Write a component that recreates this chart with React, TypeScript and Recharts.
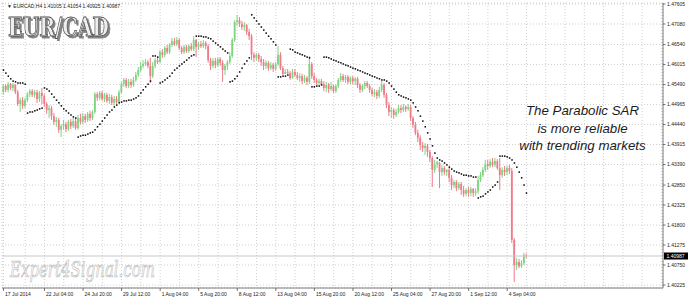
import React from 'react';
import { ComposedChart, Bar, Line, XAxis, YAxis, CartesianGrid, ReferenceLine } from 'recharts';

const BULL = '#7fd47f';
const BEAR = '#ef7b89';
const SMALL_FONT = "'Liberation Sans', Arial, sans-serif";

const symbolName = 'EURCAD,H4';
const lastBar = [1.41005, 1.41054, 1.40925, 1.40987];
const lastBid = 1.40987;

const openP = [
  1.4529, 1.4545, 1.4535, 1.4550, 1.4540, 1.4548, 1.4529, 1.4498, 1.4508, 1.4493,
  1.4508, 1.4524, 1.4532, 1.4522, 1.4529, 1.4511, 1.4527, 1.4519, 1.4498, 1.4482,
  1.4487, 1.4466, 1.4451, 1.4456, 1.4430, 1.4440, 1.4445, 1.4432, 1.4451, 1.4440,
  1.4453, 1.4435, 1.4461, 1.4451, 1.4466, 1.4456, 1.4472, 1.4461, 1.4477, 1.4524,
  1.4514, 1.4527, 1.4511, 1.4522, 1.4506, 1.4516, 1.4501, 1.4511, 1.4503, 1.4529,
  1.4550, 1.4561, 1.4545, 1.4556, 1.4548, 1.4561, 1.4574, 1.4587, 1.4598, 1.4603,
  1.4608, 1.4598, 1.4571, 1.4598, 1.4613, 1.4608, 1.4634, 1.4627, 1.4645, 1.4634,
  1.4653, 1.4663, 1.4655, 1.4666, 1.4645, 1.4634, 1.4648, 1.4637, 1.4650, 1.4642,
  1.4666, 1.4648, 1.4655, 1.4650, 1.4658, 1.4650, 1.4613, 1.4598, 1.4611, 1.4600,
  1.4616, 1.4606, 1.4587, 1.4598, 1.4608, 1.4624, 1.4666, 1.4713, 1.4718, 1.4708,
  1.4700, 1.4705, 1.4687, 1.4676, 1.4627, 1.4619, 1.4627, 1.4616, 1.4608, 1.4598,
  1.4606, 1.4592, 1.4600, 1.4590, 1.4603, 1.4627, 1.4592, 1.4577, 1.4582, 1.4579,
  1.4566, 1.4582, 1.4574, 1.4566, 1.4571, 1.4558, 1.4566, 1.4556, 1.4603, 1.4571,
  1.4561, 1.4553, 1.4558, 1.4550, 1.4540, 1.4548, 1.4537, 1.4545, 1.4532, 1.4545,
  1.4561, 1.4571, 1.4561, 1.4569, 1.4556, 1.4566, 1.4558, 1.4564, 1.4548, 1.4535,
  1.4545, 1.4553, 1.4545, 1.4535, 1.4524, 1.4529, 1.4519, 1.4535, 1.4548, 1.4522,
  1.4495, 1.4477, 1.4482, 1.4469, 1.4477, 1.4487, 1.4482, 1.4490, 1.4485, 1.4490,
  1.4461, 1.4443, 1.4422, 1.4409, 1.4390, 1.4382, 1.4388, 1.4372, 1.4356, 1.4325,
  1.4340, 1.4343, 1.4319, 1.4330, 1.4319, 1.4325, 1.4304, 1.4285, 1.4293, 1.4277,
  1.4288, 1.4272, 1.4262, 1.4272, 1.4264, 1.4275, 1.4264, 1.4269, 1.4298, 1.4311,
  1.4325, 1.4340, 1.4335, 1.4346, 1.4338, 1.4348, 1.4330, 1.4311, 1.4325, 1.4319,
  1.4330, 1.4322, 1.4141, 1.4075, 1.4083, 1.4072, 1.4080, 1.41005,
];

const highP = [
  1.4550, 1.4550, 1.4556, 1.4553, 1.4553, 1.4550, 1.4535, 1.4514, 1.4516, 1.4514,
  1.4529, 1.4537, 1.4537, 1.4535, 1.4535, 1.4532, 1.4540, 1.4524, 1.4503, 1.4495,
  1.4493, 1.4474, 1.4464, 1.4461, 1.4445, 1.4456, 1.4451, 1.4456, 1.4459, 1.4461,
  1.4459, 1.4469, 1.4472, 1.4474, 1.4472, 1.4477, 1.4480, 1.4482, 1.4529, 1.4529,
  1.4532, 1.4532, 1.4527, 1.4527, 1.4524, 1.4522, 1.4519, 1.4519, 1.4535, 1.4556,
  1.4566, 1.4566, 1.4564, 1.4564, 1.4569, 1.4582, 1.4595, 1.4608, 1.4613, 1.4616,
  1.4613, 1.4619, 1.4608, 1.4619, 1.4619, 1.4640, 1.4642, 1.4650, 1.4653, 1.4658,
  1.4671, 1.4671, 1.4674, 1.4671, 1.4650, 1.4653, 1.4653, 1.4655, 1.4658, 1.4676,
  1.4669, 1.4661, 1.4663, 1.4666, 1.4663, 1.4655, 1.4619, 1.4619, 1.4619, 1.4621,
  1.4621, 1.4613, 1.4603, 1.4613, 1.4634, 1.4671, 1.4718, 1.4732, 1.4726, 1.4716,
  1.4713, 1.4708, 1.4695, 1.4682, 1.4634, 1.4632, 1.4632, 1.4624, 1.4616, 1.4613,
  1.4611, 1.4608, 1.4606, 1.4608, 1.4650, 1.4634, 1.4598, 1.4590, 1.4590, 1.4585,
  1.4590, 1.4590, 1.4582, 1.4579, 1.4577, 1.4574, 1.4571, 1.4624, 1.4608, 1.4579,
  1.4566, 1.4564, 1.4564, 1.4558, 1.4556, 1.4553, 1.4556, 1.4548, 1.4550, 1.4566,
  1.4579, 1.4577, 1.4574, 1.4574, 1.4571, 1.4571, 1.4569, 1.4569, 1.4553, 1.4550,
  1.4558, 1.4558, 1.4550, 1.4540, 1.4537, 1.4535, 1.4543, 1.4558, 1.4553, 1.4527,
  1.4503, 1.4490, 1.4487, 1.4485, 1.4495, 1.4495, 1.4498, 1.4495, 1.4498, 1.4495,
  1.4466, 1.4451, 1.4430, 1.4416, 1.4398, 1.4395, 1.4393, 1.4377, 1.4361, 1.4351,
  1.4348, 1.4346, 1.4338, 1.4335, 1.4327, 1.4330, 1.4311, 1.4298, 1.4298, 1.4293,
  1.4293, 1.4283, 1.4277, 1.4280, 1.4280, 1.4277, 1.4277, 1.4309, 1.4319, 1.4332,
  1.4351, 1.4351, 1.4353, 1.4356, 1.4356, 1.4353, 1.4356, 1.4332, 1.4335, 1.4335,
  1.4338, 1.4330, 1.4146, 1.4093, 1.4091, 1.4088, 1.4107, 1.41054,
];

const lowP = [
  1.4522, 1.4529, 1.4529, 1.4535, 1.4532, 1.4524, 1.4493, 1.4477, 1.4485, 1.4487,
  1.4503, 1.4516, 1.4516, 1.4514, 1.4501, 1.4503, 1.4498, 1.4490, 1.4472, 1.4461,
  1.4456, 1.4443, 1.4438, 1.4422, 1.4411, 1.4430, 1.4424, 1.4427, 1.4432, 1.4435,
  1.4430, 1.4430, 1.4445, 1.4445, 1.4448, 1.4451, 1.4453, 1.4456, 1.4472, 1.4506,
  1.4508, 1.4506, 1.4503, 1.4501, 1.4498, 1.4495, 1.4493, 1.4498, 1.4503, 1.4524,
  1.4543, 1.4540, 1.4540, 1.4540, 1.4543, 1.4556, 1.4569, 1.4582, 1.4592, 1.4598,
  1.4592, 1.4553, 1.4566, 1.4592, 1.4603, 1.4606, 1.4619, 1.4621, 1.4629, 1.4629,
  1.4648, 1.4650, 1.4650, 1.4640, 1.4629, 1.4629, 1.4632, 1.4632, 1.4637, 1.4637,
  1.4621, 1.4640, 1.4645, 1.4645, 1.4642, 1.4606, 1.4587, 1.4592, 1.4592, 1.4595,
  1.4598, 1.4556, 1.4574, 1.4587, 1.4603, 1.4619, 1.4661, 1.4703, 1.4700, 1.4692,
  1.4690, 1.4679, 1.4666, 1.4613, 1.4608, 1.4611, 1.4608, 1.4598, 1.4587, 1.4590,
  1.4585, 1.4587, 1.4582, 1.4585, 1.4598, 1.4587, 1.4574, 1.4577, 1.4577, 1.4561,
  1.4564, 1.4569, 1.4561, 1.4556, 1.4550, 1.4553, 1.4548, 1.4550, 1.4564, 1.4553,
  1.4548, 1.4548, 1.4550, 1.4532, 1.4529, 1.4527, 1.4532, 1.4527, 1.4527, 1.4540,
  1.4556, 1.4556, 1.4553, 1.4550, 1.4550, 1.4550, 1.4548, 1.4540, 1.4527, 1.4529,
  1.4537, 1.4540, 1.4527, 1.4519, 1.4516, 1.4511, 1.4514, 1.4529, 1.4514, 1.4487,
  1.4466, 1.4461, 1.4459, 1.4464, 1.4472, 1.4474, 1.4477, 1.4477, 1.4480, 1.4453,
  1.4435, 1.4416, 1.4398, 1.4377, 1.4372, 1.4364, 1.4359, 1.4346, 1.4280, 1.4317,
  1.4330, 1.4277, 1.4309, 1.4311, 1.4309, 1.4293, 1.4272, 1.4277, 1.4269, 1.4272,
  1.4259, 1.4254, 1.4256, 1.4254, 1.4256, 1.4254, 1.4256, 1.4262, 1.4293, 1.4306,
  1.4319, 1.4325, 1.4330, 1.4332, 1.4332, 1.4325, 1.4272, 1.4304, 1.4309, 1.4311,
  1.4314, 1.4133, 1.4030, 1.4062, 1.4067, 1.4067, 1.4075, 1.40925,
];

const closeP = [
  1.4545, 1.4535, 1.4550, 1.4540, 1.4548, 1.4529, 1.4498, 1.4508, 1.4493, 1.4508,
  1.4524, 1.4532, 1.4522, 1.4529, 1.4511, 1.4527, 1.4519, 1.4498, 1.4482, 1.4487,
  1.4466, 1.4451, 1.4456, 1.4430, 1.4440, 1.4445, 1.4432, 1.4451, 1.4440, 1.4453,
  1.4435, 1.4461, 1.4451, 1.4466, 1.4456, 1.4472, 1.4461, 1.4477, 1.4524, 1.4514,
  1.4527, 1.4511, 1.4522, 1.4506, 1.4516, 1.4501, 1.4511, 1.4503, 1.4529, 1.4550,
  1.4561, 1.4545, 1.4556, 1.4548, 1.4561, 1.4574, 1.4587, 1.4598, 1.4603, 1.4608,
  1.4598, 1.4571, 1.4598, 1.4613, 1.4608, 1.4634, 1.4627, 1.4645, 1.4634, 1.4653,
  1.4663, 1.4655, 1.4666, 1.4645, 1.4634, 1.4648, 1.4637, 1.4650, 1.4642, 1.4666,
  1.4648, 1.4655, 1.4650, 1.4658, 1.4650, 1.4613, 1.4598, 1.4611, 1.4600, 1.4616,
  1.4606, 1.4587, 1.4598, 1.4608, 1.4624, 1.4666, 1.4713, 1.4718, 1.4708, 1.4700,
  1.4705, 1.4687, 1.4676, 1.4627, 1.4619, 1.4627, 1.4616, 1.4608, 1.4598, 1.4606,
  1.4592, 1.4600, 1.4590, 1.4603, 1.4627, 1.4592, 1.4577, 1.4582, 1.4579, 1.4566,
  1.4582, 1.4574, 1.4566, 1.4571, 1.4558, 1.4566, 1.4556, 1.4603, 1.4571, 1.4561,
  1.4553, 1.4558, 1.4550, 1.4540, 1.4548, 1.4537, 1.4545, 1.4532, 1.4545, 1.4561,
  1.4571, 1.4561, 1.4569, 1.4556, 1.4566, 1.4558, 1.4564, 1.4548, 1.4535, 1.4545,
  1.4553, 1.4545, 1.4535, 1.4524, 1.4529, 1.4519, 1.4535, 1.4548, 1.4522, 1.4495,
  1.4477, 1.4482, 1.4469, 1.4477, 1.4487, 1.4482, 1.4490, 1.4485, 1.4490, 1.4461,
  1.4443, 1.4422, 1.4409, 1.4390, 1.4382, 1.4388, 1.4372, 1.4356, 1.4325, 1.4340,
  1.4346, 1.4319, 1.4330, 1.4319, 1.4325, 1.4304, 1.4285, 1.4293, 1.4277, 1.4288,
  1.4272, 1.4262, 1.4272, 1.4264, 1.4275, 1.4264, 1.4269, 1.4298, 1.4311, 1.4325,
  1.4340, 1.4335, 1.4346, 1.4338, 1.4348, 1.4330, 1.4311, 1.4325, 1.4319, 1.4330,
  1.4322, 1.4141, 1.4075, 1.4083, 1.4072, 1.4080, 1.4101, 1.40987,
];

const sarP = [
  1.4587, 1.4579, 1.4571, 1.4564, 1.4558, 1.4556, 1.4553, 1.4553, 1.4553, 1.4550,
  1.4474, 1.4477, 1.4477, 1.4480, 1.4482, 1.4485, 1.4487,
  1.4540, 1.4537, 1.4532, 1.4524, 1.4516, 1.4508, 1.4501, 1.4493, 1.4485, 1.4480, 1.4474, 1.4469, 1.4464, 1.4461,
  1.4411, 1.4414, 1.4416, 1.4416, 1.4419, 1.4422, 1.4424,
  1.4430, 1.4438, 1.4445, 1.4453, 1.4461, 1.4469, 1.4477, 1.4482, 1.4490, 1.4495, 1.4501,
  1.4503, 1.4506, 1.4506, 1.4508, 1.4508, 1.4511, 1.4514, 1.4519, 1.4527, 1.4535, 1.4543, 1.4550, 1.4558,
  1.4624, 1.4624, 1.4621,
  1.4553, 1.4556, 1.4561, 1.4566, 1.4571, 1.4579, 1.4587, 1.4592, 1.4598, 1.4603, 1.4608, 1.4613, 1.4619, 1.4624, 1.4627,
  1.4676, 1.4676, 1.4676, 1.4674, 1.4674, 1.4671, 1.4669, 1.4663, 1.4658, 1.4653, 1.4648, 1.4642, 1.4637, 1.4632,
  1.4556, 1.4558, 1.4564, 1.4571, 1.4582, 1.4592, 1.4603, 1.4611, 1.4619,
  1.4732, 1.4724, 1.4716, 1.4708, 1.4700, 1.4692, 1.4684, 1.4676, 1.4669, 1.4661, 1.4653,
  1.4569, 1.4569, 1.4571, 1.4571, 1.4574,
  1.4642, 1.4640, 1.4634, 1.4632, 1.4629, 1.4627, 1.4624, 1.4621, 1.4619,
  1.4543, 1.4543, 1.4545, 1.4545, 1.4548,
  1.4621, 1.4621, 1.4619, 1.4616, 1.4613, 1.4611, 1.4608, 1.4606, 1.4603, 1.4600, 1.4598, 1.4595, 1.4592,
  1.4590, 1.4587, 1.4585, 1.4582, 1.4579, 1.4577, 1.4574, 1.4571, 1.4569, 1.4566, 1.4564, 1.4561,
  1.4561, 1.4558, 1.4553, 1.4545, 1.4537, 1.4529, 1.4522, 1.4519, 1.4516, 1.4514, 1.4511, 1.4508,
  1.4501, 1.4490, 1.4480, 1.4466, 1.4453, 1.4438, 1.4422, 1.4406, 1.4388, 1.4369, 1.4356, 1.4351, 1.4348,
  1.4343, 1.4338, 1.4332, 1.4327, 1.4322, 1.4319, 1.4317, 1.4314, 1.4311, 1.4311, 1.4309, 1.4309, 1.4306, 1.4306,
  1.4251, 1.4254, 1.4256, 1.4262, 1.4267, 1.4272, 1.4280, 1.4285, 1.4293,
  1.4361, 1.4361, 1.4361, 1.4359, 1.4356, 1.4351, 1.4343, 1.4332, 1.4319, 1.4304, 1.4285, 1.4264,
];

const gridBars = [0, 9, 17, 25, 33, 41, 49, 57, 65, 73, 81, 89, 97, 105, 113, 121, 129, 137, 145, 153,
  161, 169, 177, 185, 193, 201, 209, 217, 225, 233, 241, 249, 257, 265, 273];
const labelBars = [0, 17, 33, 49, 65, 81, 97, 113, 129, 145, 161, 177, 193, 209];
const dateLabels = ['17 Jul 2014', '22 Jul 04:00', '24 Jul 20:00', '29 Jul 12:00', '1 Aug 04:00', '5 Aug 20:00',
  '8 Aug 12:00', '13 Aug 04:00', '15 Aug 20:00', '20 Aug 12:00', '25 Aug 04:00', '27 Aug 20:00', '1 Sep 12:00', '4 Sep 04:00'];
const priceTicks = [1.47605, 1.4708, 1.4654, 1.46015, 1.4549, 1.44965, 1.4444, 1.43915, 1.4339, 1.4285,
  1.42325, 1.418, 1.41275, 1.4075, 1.40225];

const X_DOMAIN: [number, number] = [-0.62, 273.65];
const Y_DOMAIN: [number, number] = [1.40147, 1.47631];

const data = openP.map((o, k) => ({
  i: k,
  o,
  h: highP[k],
  l: lowP[k],
  c: closeP[k],
  sar: sarP[k],
  range: [lowP[k], highP[k]],
}));

const renderCandle = (props: any) => {
  const { x, y, width, height, payload } = props;
  if (!payload || x == null || y == null || height == null) return <g />;
  const { o, h, l, c } = payload;
  const top = Math.min(y, y + height);
  const bot = Math.max(y, y + height);
  const span = h - l || 1;
  const py = (v: number) => top + ((h - v) / span) * (bot - top);
  const cx = x + width / 2;
  const col = c >= o ? BULL : BEAR;
  const bt = py(Math.max(o, c));
  const bb = py(Math.min(o, c));
  return (
    <g>
      <line x1={cx} x2={cx} y1={top} y2={bot} stroke={col} strokeWidth={1} />
      <rect x={cx - 0.9} y={bt} width={1.8} height={Math.max(bb - bt, 0.7)} fill={col} />
    </g>
  );
};

const renderSar = (props: any) => {
  const { cx, cy, index } = props;
  if (cx == null || cy == null) return <g key={index} />;
  return <rect key={index} x={cx - 0.75} y={cy - 0.75} width={1.5} height={1.5} fill="#000" />;
};

const XTick = (props: any) => {
  const { x, y, payload } = props;
  const idx = labelBars.indexOf(payload.value);
  if (idx < 0) return <g />;
  return (
    <g>
      <line x1={x} x2={x} y1={y} y2={y + 3} stroke="#555" strokeWidth={0.8} />
      <text x={x + 1.5} y={y + 7.5} fontSize={5} fontFamily={SMALL_FONT} fill="#222" textAnchor="start">
        {dateLabels[idx]}
      </text>
    </g>
  );
};

const YTick = (props: any) => {
  const { x, y, payload } = props;
  return (
    <g>
      <line x1={x} x2={x + 2.5} y1={y} y2={y} stroke="#555" strokeWidth={0.8} />
      <text x={x + 4} y={y + 1.8} fontSize={5} fontFamily={SMALL_FONT} fill="#222" textAnchor="start">
        {Number(payload.value).toFixed(5)}
      </text>
    </g>
  );
};

const BidLabel = (props: any) => {
  const vb = props.viewBox;
  if (!vb) return <g />;
  const x = vb.x + vb.width;
  const y = vb.y;
  return (
    <g>
      <rect x={x + 1} y={y - 3.5} width={24} height={7} fill="#000" />
      <text x={x + 3.5} y={y + 1.8} fontSize={5} fontFamily={SMALL_FONT} fill="#fff">
        {lastBid.toFixed(5)}
      </text>
    </g>
  );
};

export default function App() {
  return (
    <div style={{ position: 'absolute', left: 0, top: 0, width: 690, height: 298, background: '#fff', overflow: 'hidden' }}>
      <ComposedChart width={690} height={298} data={data} margin={{ top: 3, right: 0, bottom: 0, left: 2 }}>
        <CartesianGrid strokeDasharray="1 2" stroke="#c4c4c4" strokeWidth={0.8} />
        <XAxis
          dataKey="i"
          type="number"
          domain={X_DOMAIN}
          allowDataOverflow
          ticks={gridBars}
          interval={0}
          tick={<XTick />}
          tickLine={false}
          tickSize={0}
          tickMargin={0}
          axisLine={{ stroke: '#7a7a7a', strokeWidth: 1 }}
          height={10}
        />
        <XAxis
          xAxisId="top"
          dataKey="i"
          type="number"
          orientation="top"
          domain={X_DOMAIN}
          allowDataOverflow
          tick={false}
          tickLine={false}
          axisLine={{ stroke: '#7a7a7a', strokeWidth: 1.5 }}
          height={0}
        />
        <YAxis
          type="number"
          orientation="right"
          domain={Y_DOMAIN}
          allowDataOverflow
          ticks={priceTicks}
          interval={0}
          tick={<YTick />}
          tickLine={false}
          tickSize={0}
          tickMargin={0}
          axisLine={{ stroke: '#7a7a7a', strokeWidth: 1 }}
          width={27}
        />
        <YAxis
          yAxisId="left"
          type="number"
          orientation="left"
          domain={Y_DOMAIN}
          allowDataOverflow
          tick={false}
          tickLine={false}
          axisLine={{ stroke: '#7a7a7a', strokeWidth: 1.5 }}
          width={0}
        />
        <ReferenceLine y={lastBid} stroke="#c8c8c8" strokeWidth={1} label={<BidLabel />} />
        <Bar dataKey="range" barSize={2} shape={renderCandle} isAnimationActive={false} />
        <Line dataKey="sar" stroke="none" dot={renderSar} activeDot={false} isAnimationActive={false} />
      </ComposedChart>
      <svg width={690} height={298} style={{ position: 'absolute', left: 0, top: 0, pointerEvents: 'none' }}>
        <defs>
          <filter id="logoShadow" x="-10%" y="-20%" width="130%" height="150%">
            <feDropShadow dx="2" dy="2" stdDeviation="0.6" floodColor="#777" floodOpacity="0.9" />
          </filter>
        </defs>
        <text x={7} y={7.8} fontSize={5} fontFamily={SMALL_FONT} fill="#222">
          {'\u25BC ' + symbolName + '  ' + lastBar.map((v) => v.toFixed(5)).join(' ')}
        </text>
        <text x={8} y={36} fontSize={26} fontWeight="bold" fontFamily="'DejaVu Serif', serif" fill="#eeeeee"
          stroke="#4a4a4a" strokeWidth={0.8} textLength={101} lengthAdjust="spacingAndGlyphs"
          filter="url(#logoShadow)">EUR/CAD</text>
        <text x={10} y={277} fontSize={22} fontStyle="italic" fontFamily="'DejaVu Serif', serif" fill="none"
          stroke="#b8b8b8" strokeWidth={0.7} textLength={145} lengthAdjust="spacingAndGlyphs">Expert4Signal.com</text>
        <g fontFamily="'Liberation Sans', Arial, sans-serif" fontStyle="italic" fontSize={13.3} fill="#1c1c1c" textAnchor="middle">
          <text x={582.5} y={115}>The Parabolic SAR</text>
          <text x={582.5} y={132.5}>is more reliable</text>
          <text x={582.5} y={150}>with trending markets</text>
        </g>
      </svg>
    </div>
  );
}
